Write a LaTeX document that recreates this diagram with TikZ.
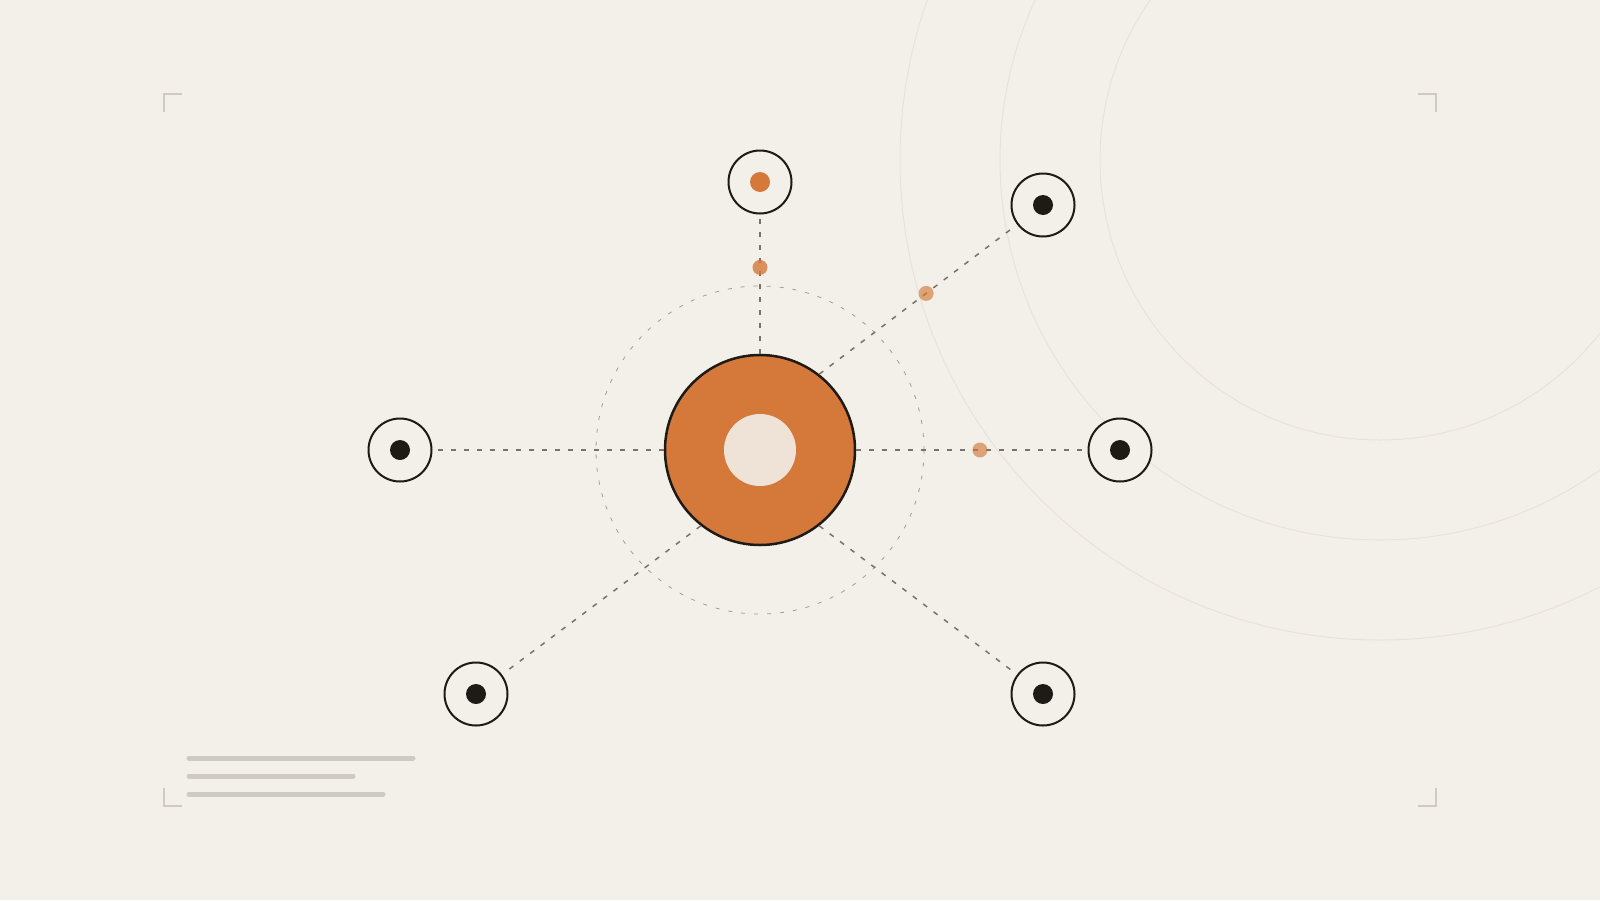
\documentclass[tikz,border=0pt]{standalone}
\usepackage{tikz}
\definecolor{paper}{HTML}{F3EFE9}
\definecolor{ember}{HTML}{D4793A}
\definecolor{cream}{HTML}{EFE3D7}
\definecolor{ink}{HTML}{1E1A16}
\definecolor{wire}{HTML}{77726C}
\definecolor{faint}{HTML}{E7E2DB}
\definecolor{mark}{HTML}{CFCAC4}

\begin{document}
\begin{tikzpicture}[x=1pt,y=-1pt,
  hub node/.style={circle,draw=ink,line width=2.5pt,fill=ember,minimum size=190pt,inner sep=0pt,
    path picture={\fill[cream] (path picture bounding box.center) circle (36pt);}},
  sat node/.style={circle,draw=ink,line width=2pt,fill=paper,minimum size=63pt,inner sep=0pt,
    path picture={\fill[#1] (path picture bounding box.center) circle (10pt);}},
  sat node/.default=ink,
  spark/.style={circle,fill=ember,fill opacity=#1,minimum size=15pt,inner sep=0pt},
  spark/.default=.65,
  link/.style={draw=wire,line width=1.5pt,dash pattern=on 5pt off 8pt,shorten >=4pt},
  orbit/.style={draw=wire!70,line width=.8pt,dash pattern=on 4pt off 9pt},
  halo/.style={draw=faint,line width=1pt},
  corner/.style={draw=mark,line width=2pt},
  note line/.style={draw=mark,line width=5pt,line cap=round}]

  \useasboundingbox (0,0) rectangle (1600,900);
  \fill[paper] (0,0) rectangle (1600,900);

  \begin{scope}
    \clip (0,0) rectangle (1600,900);
    \draw[halo] (1380,160) circle (280pt) (1380,160) circle (380pt) (1380,160) circle (480pt);
  \end{scope}

  \draw[corner] (164,112) -- (164,94) -- (182,94);
  \draw[corner] (1418,94) -- (1436,94) -- (1436,112);
  \draw[corner] (164,788) -- (164,806) -- (182,806);
  \draw[corner] (1418,806) -- (1436,806) -- (1436,788);

  \draw[note line] (189,758) -- (413,758);
  \draw[note line] (189,776) -- (353,776);
  \draw[note line] (189,794) -- (383,794);

  \draw[orbit] (760,450) circle (164pt);

  \node[hub node] (0) at (760,450) {};
  \node[sat node=ember] (1) at (760,182) {};
  \node[sat node] (2) at (1043,205) {};
  \node[sat node] (3) at (1120,450) {};
  \node[sat node] (4) at (1043,694) {};
  \node[sat node] (5) at (476,694) {};
  \node[sat node] (6) at (400,450) {};

  \path[link]
    (0) edge node[spark=.8,pos=.62] {} (1)
    (0.52) edge node[spark,pos=.54] {} (2)
    (0) edge node[spark,pos=.535] {} (3)
    (0.-52) edge (4)
    (0.232) edge (5)
    (0) edge (6);
\end{tikzpicture}
\end{document}
